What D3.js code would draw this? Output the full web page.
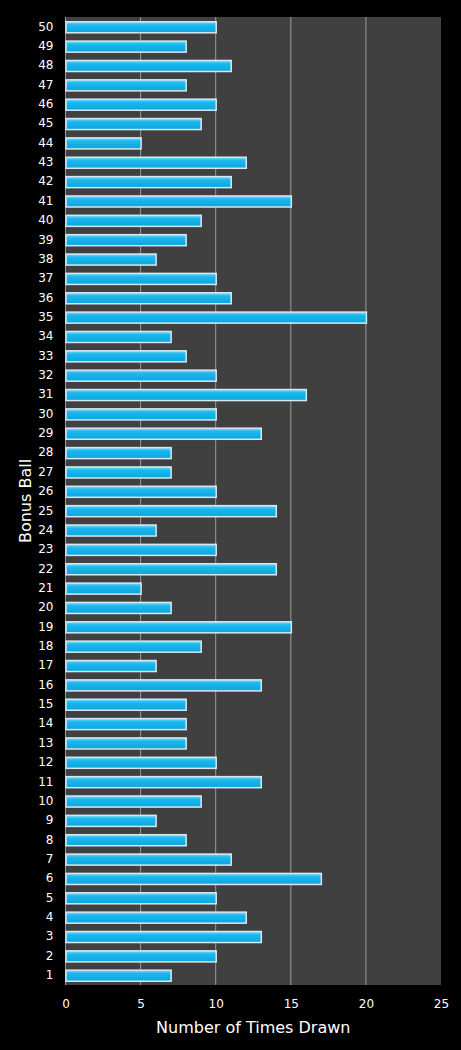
<!DOCTYPE html>
<html><head><meta charset="utf-8">
<script src="https://cdn.jsdelivr.net/npm/d3@7"></script>
<style>html,body{margin:0;padding:0;background:#000;}svg{display:block;}</style>
</head><body>
<script>
const balls = d3.range(1, 51).map(String);
const counts = [7,10,13,12,10,17,11,8,6,9,13,10,8,8,8,13,6,9,15,7,5,14,10,6,14,10,7,7,13,10,16,10,8,7,20,11,10,6,8,9,15,11,12,5,9,10,8,11,8,10];
const xTicks = [0,5,10,15,20,25];
const xTitle = "Number of Times Drawn";
const yTitle = "Bonus Ball";

const W = 461, H = 1050;
const m = {left: 65.5, right: 20, top: 17, bottom: 65};
const svg = d3.select("body").append("svg").attr("width", W).attr("height", H);
svg.append("rect").attr("width", W).attr("height", H).attr("fill", "#000");

const x = d3.scaleLinear().domain([0, 25]).range([m.left, W - m.right]);
const y = d3.scaleBand().domain(balls.slice().reverse()).range([m.top, H - m.bottom]).paddingInner(0.43).paddingOuter(0.22);

const defs = svg.append("defs");
const g = defs.append("linearGradient").attr("id","barg").attr("x1",0).attr("y1",0).attr("x2",0).attr("y2",1);
g.append("stop").attr("offset","0%").attr("stop-color","#7fd9f7");
g.append("stop").attr("offset","30%").attr("stop-color","#1bb8ee");
g.append("stop").attr("offset","100%").attr("stop-color","#0aa6de");

svg.append("rect").attr("x", x(0)).attr("y", m.top).attr("width", x(25) - x(0)).attr("height", H - m.bottom - m.top).attr("fill", "#404040");

svg.append("g").selectAll("line").data(xTicks.slice(1, -1)).join("line")
  .attr("x1", d => x(d)).attr("x2", d => x(d)).attr("y1", m.top).attr("y2", H - m.bottom)
  .attr("stroke", "#999").attr("stroke-width", 1);

svg.append("line").attr("x1", x(0)).attr("x2", x(0)).attr("y1", m.top).attr("y2", H - m.bottom).attr("stroke", "#999");

svg.append("g").selectAll("rect").data(balls).join("rect")
  .attr("x", x(0) + 0.5)
  .attr("y", d => y(d) + 0.5)
  .attr("width", (d, i) => x(counts[i]) - x(0))
  .attr("height", y.bandwidth())
  .attr("fill", "url(#barg)")
  .attr("stroke", "#d8e8f0").attr("stroke-width", 1.5);

const xAxis = svg.append("g").attr("transform", `translate(0,${H - m.bottom})`)
  .call(d3.axisBottom(x).tickValues(xTicks).tickSize(0).tickPadding(14));
xAxis.select(".domain").remove();
xAxis.selectAll("text").attr("fill", "#fff").style("font", "12px 'DejaVu Sans', Verdana, sans-serif");

const yAxis = svg.append("g").attr("transform", `translate(${m.left},0)`)
  .call(d3.axisLeft(y).tickSize(0).tickPadding(12));
yAxis.select(".domain").remove();
yAxis.selectAll("text").attr("fill", "#fff").style("font", "12px 'DejaVu Sans', Verdana, sans-serif");

svg.append("text").attr("x", (x(0) + x(25)) / 2).attr("y", 1033).attr("text-anchor", "middle")
  .attr("fill", "#fff").style("font", "16px 'DejaVu Sans', Verdana, sans-serif").text(xTitle);
svg.append("text").attr("transform", `translate(31,${(m.top + H - m.bottom) / 2}) rotate(-90)`).attr("text-anchor", "middle")
  .attr("fill", "#fff").style("font", "16px 'DejaVu Sans', Verdana, sans-serif").text(yTitle);
</script>
</body></html>
